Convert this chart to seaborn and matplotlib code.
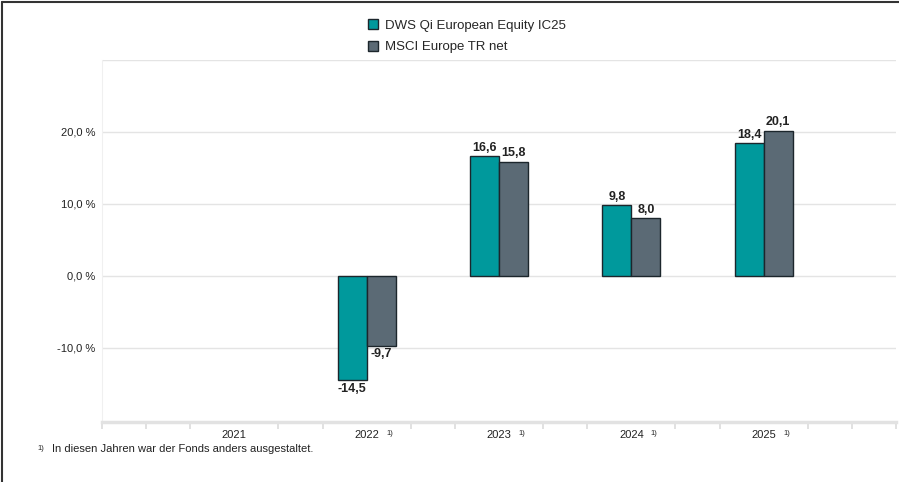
import numpy as np
import pandas as pd
import matplotlib
matplotlib.use("Agg")
import matplotlib.pyplot as plt
from matplotlib.lines import Line2D
import seaborn as sns

# data
years = ["2021", "2022", "2023", "2024", "2025"]
fund_name = "DWS Qi European Equity IC25"
bench_name = "MSCI Europe TR net"
fund_values = [np.nan, -14.5, 16.6, 9.8, 18.4]
bench_values = [np.nan, -9.7, 15.8, 8.0, 20.1]
footnote_years = ["2022", "2023", "2024", "2025"]
y_ticks = [-10, 0, 10, 20]

teal = "#00999c"
slate = "#5b6a75"

sns.set_theme(style="white")
plt.rcParams["font.family"] = ["Liberation Sans", "DejaVu Sans"]

df = pd.DataFrame({
    "year": years * 2,
    "series": [fund_name] * len(years) + [bench_name] * len(years),
    "value": fund_values + bench_values,
})

fig = plt.figure(figsize=(8.99, 4.82), dpi=100)
ax = fig.add_axes([102 / 899, 60 / 482, 794 / 899, 362 / 482])

sns.barplot(data=df, x="year", y="value", hue="series", order=years,
            hue_order=[fund_name, bench_name],
            palette={fund_name: teal, bench_name: slate}, saturation=1,
            width=0.44, edgecolor="#1c262c", linewidth=1, ax=ax)

# value labels on the bars
for cont in ax.containers:
    labels = ["" if np.isnan(v) else f"{v:.1f}".replace(".", ",") for v in cont.datavalues]
    ax.bar_label(cont, labels=labels, padding=2, fontsize=9, fontweight="bold", color="#222222")

ax.set_xlim(-1, 5)
ax.set_ylim(-20.3, 30)
ax.set_yticks(y_ticks)
ax.set_yticklabels([f"{t:.1f}".replace(".", ",") + " %" for t in y_ticks], fontsize=8, color="#222222")
ax.set_xlabel("")
ax.set_ylabel("")

# grid lines
for t in [-10, 0, 10, 20, 30]:
    ax.axhline(t, color="#e4e4e4", lw=1, zorder=0)

ax.tick_params(axis="y", length=0, pad=5)
ax.tick_params(axis="x", which="major", length=0, pad=6, labelsize=8, labelcolor="#222222")
# small ticks every third of a category, none under the year labels
minor = [k / 3 for k in range(-3, 16) if k % 3 != 0 or k in (-3, 15)]
ax.set_xticks(minor, minor=True)
ax.tick_params(axis="x", which="minor", bottom=True, length=5, width=1.2,
               color="#dcdcdc", direction="out")

for side in ["top", "right"]:
    ax.spines[side].set_visible(False)
ax.spines["left"].set_color("#f0f0f0")
ax.spines["left"].set_linewidth(0.8)
ax.spines["bottom"].set_color("#e2e2e2")
ax.spines["bottom"].set_linewidth(2.5)

# superscript footnote markers next to year labels
for yr in footnote_years:
    ax.annotate("1)", xy=(years.index(yr), 0), xycoords=("data", "axes fraction"),
                xytext=(14, -8.5), textcoords="offset points", fontsize=5.5,
                color="#222222", ha="left", va="center")

# legend at the top
handles, labels = ax.get_legend_handles_labels()
ax.get_legend().remove()
fig.legend(handles, labels, loc="upper left", bbox_to_anchor=(356 / 899, 1 - 7 / 482),
           frameon=False, fontsize=9.5, handlelength=0.8, handleheight=0.8,
           handletextpad=0.5, labelspacing=0.7)

# footnote
fig.text(37 / 899, 1 - 449 / 482, "1)", fontsize=5.5, color="#222222", va="center")
fig.text(52 / 899, 1 - 449 / 482, "In diesen Jahren war der Fonds anders ausgestaltet.",
         fontsize=8, color="#222222", va="center")

# frame lines of the screenshot
fig.add_artist(Line2D([2 / 899, 2 / 899], [0, 1 - 2 / 482], color="#333333", lw=1.5))
fig.add_artist(Line2D([2 / 899, 1], [1 - 2 / 482, 1 - 2 / 482], color="#333333", lw=1.5))

fig.savefig("out.png", dpi=100)
